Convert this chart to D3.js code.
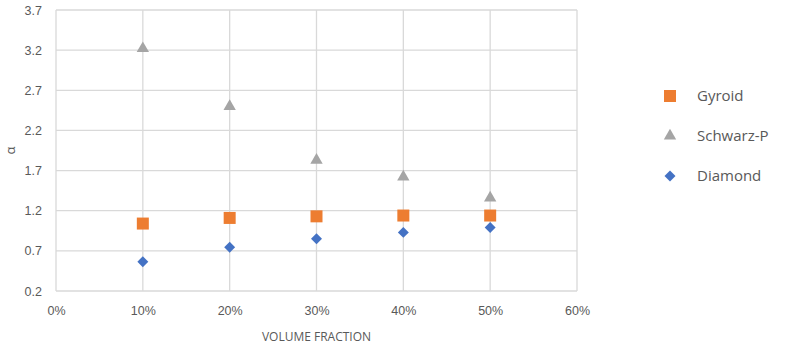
<!DOCTYPE html>
<html>
<head>
<meta charset="utf-8">
<script src="https://cdn.jsdelivr.net/npm/d3@7"></script>
<style>
  html, body { margin: 0; padding: 0; background: #fff; }
  svg { display: block; font-family: "Open Sans", "Liberation Sans", sans-serif; }
</style>
</head>
<body>
<svg id="chart" width="788" height="348"></svg>
<script>
// Volume fractions (x positions) and alpha values per lattice type
const fractions = [0.1, 0.2, 0.3, 0.4, 0.5];
const gyroid    = [1.04, 1.11, 1.13, 1.14, 1.14];
const schwarzP  = [3.22, 2.50, 1.83, 1.62, 1.36];
const diamond   = [0.565, 0.745, 0.85, 0.93, 0.99];

const xTicks = [0, 0.1, 0.2, 0.3, 0.4, 0.5, 0.6];
const yTicks = [0.2, 0.7, 1.2, 1.7, 2.2, 2.7, 3.2, 3.7];

const seriesNames  = ["Gyroid", "Schwarz-P", "Diamond"];
const seriesColors = ["#ED7D31", "#A5A5A5", "#4472C4"];

// Square turned 45 degrees (equal diagonals)
const symbolRhombus = {
  draw(context, size) {
    const r = Math.sqrt(size / 2);
    context.moveTo(0, -r);
    context.lineTo(r, 0);
    context.lineTo(0, r);
    context.lineTo(-r, 0);
    context.closePath();
  }
};
const seriesSymbols = [d3.symbolSquare, d3.symbolTriangle, symbolRhombus];
const seriesSizes = [144, 66, 60];

const svg = d3.select("#chart");
const plot = { left: 56, right: 577, top: 10, bottom: 291 };

const x = d3.scaleLinear().domain([0, 0.6]).range([plot.left, plot.right]);
const y = d3.scaleLinear().domain([0.2, 3.7]).range([plot.bottom, plot.top]);

const gridColor = "#d9d9d9";
const textColor = "#595959";

// Horizontal gridlines
svg.append("g")
  .selectAll("line")
  .data(yTicks)
  .join("line")
  .attr("x1", plot.left).attr("x2", plot.right)
  .attr("y1", d => y(d)).attr("y2", d => y(d))
  .attr("stroke", gridColor).attr("stroke-width", 1.3);

// Vertical gridlines
svg.append("g")
  .selectAll("line")
  .data(xTicks)
  .join("line")
  .attr("x1", d => x(d)).attr("x2", d => x(d))
  .attr("y1", plot.top).attr("y2", plot.bottom)
  .attr("stroke", gridColor).attr("stroke-width", 1.3);

// Y axis labels
const yAxis = d3.axisLeft(y).tickValues(yTicks).tickFormat(d3.format(".1f")).tickSize(0).tickPadding(14);
const gy = svg.append("g").attr("transform", `translate(${plot.left},0)`).call(yAxis);
gy.select(".domain").remove();
gy.selectAll("text").attr("fill", textColor).style("font-size", "12.5px");

// X axis labels
const xAxis = d3.axisBottom(x).tickValues(xTicks).tickFormat(d3.format(".0%")).tickSize(0).tickPadding(15);
const gx = svg.append("g").attr("transform", `translate(0,${plot.bottom})`).call(xAxis);
gx.select(".domain").remove();
gx.selectAll("text").attr("fill", textColor).style("font-size", "12.5px");

// Axis titles
svg.append("text")
  .attr("x", (plot.left + plot.right) / 2).attr("y", 341)
  .attr("text-anchor", "middle").attr("fill", textColor)
  .style("font-size", "12px")
  .text("VOLUME FRACTION");

svg.append("text")
  .attr("transform", `translate(15,${(plot.top + plot.bottom) / 2}) rotate(-90)`)
  .attr("text-anchor", "middle").attr("fill", textColor)
  .style("font-size", "13px")
  .text("α");

// Markers for each series
const allSeries = [gyroid, schwarzP, diamond];
allSeries.forEach((vals, i) => {
  const sym = d3.symbol().type(seriesSymbols[i]).size(seriesSizes[i]);
  svg.append("g")
    .selectAll("path")
    .data(vals.map((v, j) => ({ x: fractions[j], y: v })))
    .join("path")
    .attr("d", sym)
    .attr("transform", d => `translate(${x(d.x)},${y(d.y)})`)
    .attr("fill", seriesColors[i]);
});

// Legend
const legend = svg.append("g");
seriesNames.forEach((name, i) => {
  const ly = 96 + i * 40;
  const sym = d3.symbol().type(seriesSymbols[i]).size(seriesSizes[i]);
  legend.append("path")
    .attr("d", sym)
    .attr("transform", `translate(670,${ly})`)
    .attr("fill", seriesColors[i]);
  legend.append("text")
    .attr("x", 697).attr("y", ly)
    .attr("dy", "0.35em")
    .attr("fill", textColor)
    .style("font-size", "15px")
    .text(name);
});
</script>
</body>
</html>
